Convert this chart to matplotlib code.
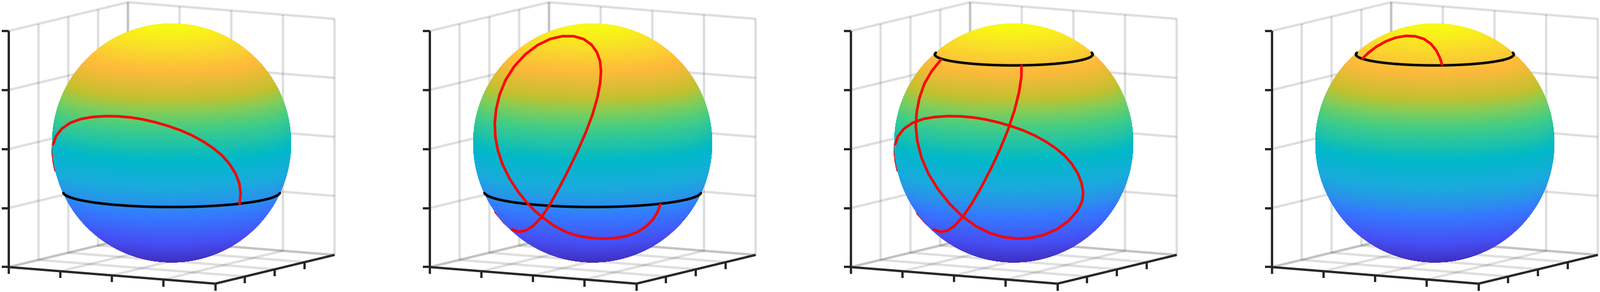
import numpy as np
import matplotlib
matplotlib.use('Agg')
import matplotlib.pyplot as plt
from matplotlib.colors import LinearSegmentedColormap

path1_u = [.570, .582, .567, .534, .485, .420, .346, .264, .174, .076, -.022, -.128, -.235, -.341, -.448, -.554, -.660, -.759, -.849, -.922, -.971, -.990, -.998, -.989, -.975]
path1_v = [-.511, -.421, -.339, -.257, -.175, -.101, -.044, .013, .062, .106, .139, .172, .196, .214, .223, .224, .218, .201, .169, .119, .054, -.011, -.077, -.159, -.232]

path2_u = [.568, .547, .506, .448, .375, .285, .187, .080, -.026, -.124, -.223, -.321, -.427, -.484, -.542, -.624, -.697, -.754, -.795, -.815, -.820, -.809, -.779, -.730, -.656, -.566, -.460, -.354, -.255, -.157, -.075, -.010, .036, .061, .069, .061, .039, -.002, -.059, -.124, -.198, -.272, -.362, -.427, -.501, -.566, -.624, -.673, -.738, -.815]
path2_v = [-.516, -.576, -.642, -.699, -.748, -.781, -.797, -.802, -.796, -.777, -.748, -.699, -.617, -.568, -.511, -.412, -.298, -.183, -.061, .054, .160, .283, .406, .529, .643, .741, .823, .872, .895, .894, .872, .823, .758, .684, .602, .496, .381, .234, .087, -.061, -.216, -.355, -.527, -.617, -.699, -.735, -.745, -.723, -.675, -.578]

path3a_u = [-.610, -.691, -.749, -.790, -.814, -.819, -.809, -.773, -.716, -.634, -.536, -.430, -.315, -.200, -.086, .029, .143, .258, .364, .462, .536, .572, .580, .569, .536, .487, .421, .348, .266, .176, .078, -.020, -.127, -.233, -.340, -.446, -.552, -.659, -.757, -.847, -.921, -.973, -.990, -.999, -.989, -.975]
path3a_v = [.700, .602, .496, .381, .250, .136, .021, -.126, -.257, -.388, -.511, -.617, -.699, -.756, -.789, -.802, -.797, -.768, -.723, -.650, -.568, -.486, -.421, -.339, -.257, -.175, -.101, -.044, .013, .062, .106, .139, .172, .196, .214, .223, .224, .218, .201, .169, .119, .054, -.011, -.077, -.159, -.232]
path3b_u = [-.810, -.735, -.667, -.618, -.560, -.495, -.430, -.356, -.274, -.192, -.119, -.045, .004, .045, .066, .065]
path3b_v = [-.590, -.678, -.723, -.745, -.735, -.699, -.617, -.519, -.372, -.216, -.061, .119, .267, .430, .561, .646]

path4_u = [-.606, -.556, -.491, -.409, -.327, -.245, -.164, -.090, -.033, .013, .041, .061]
path4_v = [.709, .758, .807, .853, .884, .897, .895, .872, .831, .774, .717, .656]

panel_paths = [
    [(path1_u, path1_v)],
    [(path2_u, path2_v)],
    [(path3a_u, path3a_v), (path3b_u, path3b_v)],
    [(path4_u, path4_v)],
]
ring_heights = [-.415, -.415, .75, .75]
axis_ticks = [-1, -.5, 0, .5, 1]
y_tick_marks = [-.5, 0, .5]

# colours by height on the sphere
cmap_pos = [0, .125, .25, .30, .375, .5, .625, .70, .75, .85, .92, 1]
cmap_rgb = [(64, 42, 186), (70, 80, 245), (52, 122, 255), (42, 145, 235), (26, 170, 222), (0, 185, 200),
            (65, 205, 135), (135, 205, 85), (197, 192, 45), (255, 185, 60), (250, 215, 45), (248, 250, 20)]
surf_cmap = LinearSegmentedColormap.from_list('parula_like', [(p, tuple(c / 255 for c in rgb)) for p, rgb in zip(cmap_pos, cmap_rgb)], N=512)

# view and layout, in pixels of the final image
ELEV, AZIM = 8, -60
W, H = 2732, 499
CENTERS_X = [293, 1012, 1731, 2450]
CENTER_Y = 244.3
RADIUS = 203.7
AX_SIZE = 640
AXIS_COLOR = '#262626'

el, az = np.radians(ELEV), np.radians(AZIM)
view_n = np.array([np.cos(el) * np.cos(az), np.cos(el) * np.sin(az), np.sin(el)])
view_r = np.array([-np.sin(az), np.cos(az), 0])
view_up = np.cross(view_n, view_r)


def even_out(a):
    # take the jitter of the reading out of a path, ends stay put, no shrinking
    a = np.array(a, dtype=float)
    for k in (0.5, -0.53, 0.5, -0.53):
        b = a.copy()
        b[1:-1] += k * ((a[:-2] + a[2:]) / 2 - a[1:-1])
        a = b
    return a


def lift_to_sphere(u, v):
    # picture coordinates back onto the front of the unit sphere
    u, v = even_out(u), even_out(v)
    w = np.sqrt(np.clip(1 - u**2 - v**2, 0, None))
    pts = np.outer(u, view_r) + np.outer(v, view_up) + np.outer(w, view_n)
    pts = pts / np.linalg.norm(pts, axis=1, keepdims=True)
    on_limb = u**2 + v**2 > 0.99
    return pts[:, 0], pts[:, 1], pts[:, 2], on_limb


plt.rcParams['grid.color'] = (0.15, 0.15, 0.15, 0.15)
plt.rcParams['grid.linewidth'] = 2.9

fig = plt.figure(figsize=(W / 100, H / 100), dpi=100)

lon = np.linspace(0, 2 * np.pi, 241)
lat = np.linspace(0, np.pi, 121)
sx = np.outer(np.cos(lon), np.sin(lat))
sy = np.outer(np.sin(lon), np.sin(lat))
sz = np.outer(np.ones_like(lon), np.cos(lat))
zmid = (sz[:-1, :-1] + sz[1:, 1:]) / 2
face_cols = surf_cmap((zmid + 1) / 2)

tick_len = 12 / RADIUS

for cx, paths, ring_z in zip(CENTERS_X, panel_paths, ring_heights):
    off = 0.095 / 0.185 * AX_SIZE
    ax = fig.add_axes([(cx - off) / W, (H - CENTER_Y - off) / H, AX_SIZE / W, AX_SIZE / H],
                      projection='3d', proj_type='ortho', computed_zorder=False)
    ax.view_init(elev=ELEV, azim=AZIM)
    ax.set_box_aspect((1, 1, 1), zoom=2 * RADIUS / (0.59473 * AX_SIZE))
    ax.set_xlim(-1, 1, view_margin=0)
    ax.set_ylim(-1, 1, view_margin=0)
    ax.set_zlim(-1, 1, view_margin=0)
    ax.patch.set_alpha(0)

    for axis, setter, lab in [(ax.xaxis, ax.set_xticks, ax.set_xticklabels),
                              (ax.yaxis, ax.set_yticks, ax.set_yticklabels),
                              (ax.zaxis, ax.set_zticks, ax.set_zticklabels)]:
        setter(axis_ticks)
        lab([])
        axis.set_pane_color((1, 1, 1, 0))
        axis.pane.set_edgecolor((1, 1, 1, 0))
        axis.line.set_color((0, 0, 0, 0))
        axis.set_tick_params(color=(0, 0, 0, 0))

    ax.plot_surface(sx, sy, sz, facecolors=face_cols, rstride=1, cstride=1, shade=False,
                    linewidth=0.5, antialiased=True, zorder=1)

    # black ring, only the part on the viewer's side
    t = np.linspace(0, 2 * np.pi, 721)
    rr = np.sqrt(1 - ring_z**2)
    rx, ry = rr * np.cos(t), rr * np.sin(t)
    rz = np.full_like(t, ring_z)
    depth = rx * view_n[0] + ry * view_n[1] + rz * view_n[2]
    rx[depth < 0] = np.nan
    ax.plot(rx, ry, rz, color='black', lw=3.1, zorder=2, solid_capstyle='round')

    for u, v in paths:
        px, py, pz, on_limb = lift_to_sphere(u, v)
        red_kw = dict(color='red', lw=3.2, solid_capstyle='round', solid_joinstyle='round')
        # the whole path under the sphere, so only a sliver shows along the edge
        ax.plot(px, py, pz, zorder=0.9, **red_kw)
        ax.plot(np.where(on_limb, np.nan, px), py, pz, zorder=3, **red_kw)

    # axis lines and ticks
    line_kw = dict(color=AXIS_COLOR, lw=2.8, zorder=4, solid_capstyle='butt')
    ax.plot([-1, 1], [-1, -1], [-1, -1], **line_kw)
    ax.plot([1, 1], [-1, 1], [-1, -1], **line_kw)
    ax.plot([-1, -1], [-1, -1], [-1, 1], **line_kw)
    for tk in axis_ticks:
        ax.plot([tk, tk], [-1, -1], [-1, -1 - tick_len], **line_kw)
        ax.plot([-1, -1 - tick_len * view_r[0]], [-1, -1 - tick_len * view_r[1]], [tk, tk], **line_kw)
    for tk in y_tick_marks:
        ax.plot([1, 1], [tk, tk], [-1, -1 - tick_len], **line_kw)

fig.savefig('out.png', dpi=100, facecolor='white')
